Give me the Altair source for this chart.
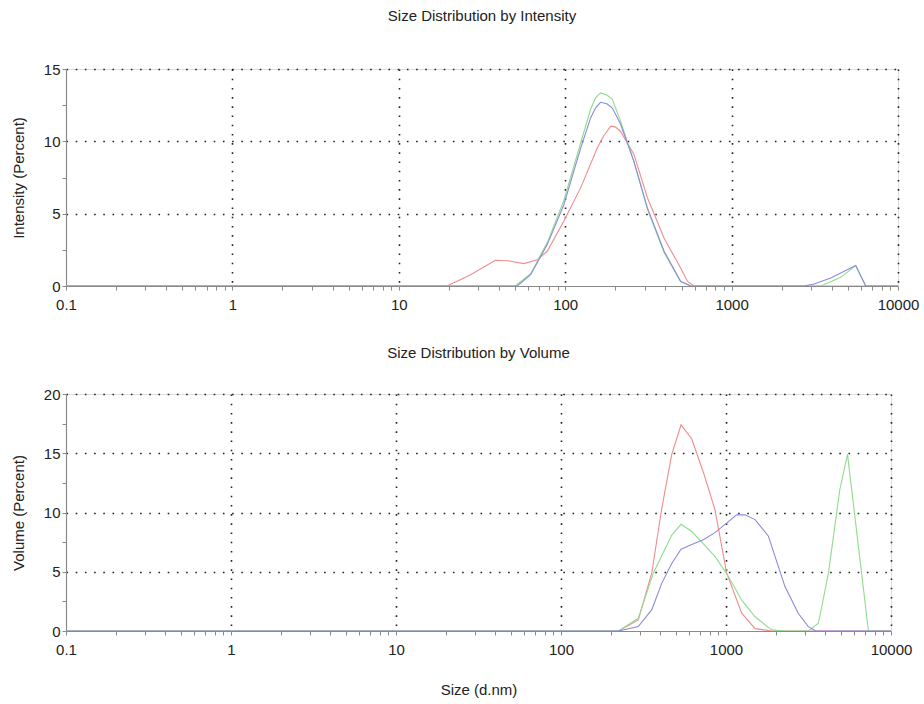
import altair as alt
import pandas as pd

FONT = "Liberation Sans"

series_names = ["Record 1", "Record 2", "Record 3"]
series_colors = ["#f08c8c", "#8edc8e", "#8a8ade"]

# ---- Size Distribution by Intensity ----
int_red_size = [0.1, 19.5, 27, 38, 45, 56.5, 68, 78, 98, 124, 156, 171, 188, 200, 215, 259, 312, 393, 494, 542, 594, 10000]
int_red_val = [0, 0, 0.78, 1.78, 1.75, 1.55, 1.82, 2.4, 4.48, 6.8, 9.55, 10.4, 11.05, 11.0, 10.7, 9.1, 6.1, 3.3, 1.25, 0.33, 0, 0]

int_green_size = [0.1, 50, 62, 78, 98, 124, 142, 152, 163, 178, 192, 215, 259, 312, 393, 494, 568, 3435, 4530, 5570, 6400, 10000]
int_green_val = [0, 0, 0.85, 3.0, 5.9, 9.9, 12.2, 13.0, 13.35, 13.2, 12.9, 11.4, 8.6, 5.3, 2.3, 0.3, 0, 0, 0.6, 1.41, 0, 0]

int_blue_size = [0.1, 51.5, 62, 78, 98, 124, 142, 152, 163, 178, 192, 215, 259, 312, 393, 494, 568, 2725, 3130, 3945, 5570, 6400, 10000]
int_blue_val = [0, 0, 0.78, 2.86, 5.6, 9.55, 11.6, 12.3, 12.7, 12.6, 12.3, 11.2, 8.6, 5.4, 2.4, 0.33, 0, 0, 0.14, 0.55, 1.41, 0, 0]

# ---- Size Distribution by Volume ----
vol_red_size = [0.1, 223, 294, 355, 407, 469, 534, 620, 729, 857, 1009, 1245, 1500, 1890, 10000]
vol_red_val = [0, 0, 0.93, 4.9, 10.25, 14.9, 17.4, 16.2, 13.4, 10.25, 4.9, 1.5, 0.2, 0, 0]

vol_green_size = [0.1, 223, 294, 363, 469, 534, 620, 857, 1035, 1245, 1500, 1890, 2305, 3155, 3630, 4180, 4890, 5450, 7300, 10000]
vol_green_val = [0, 0, 1.07, 4.9, 8.1, 9.0, 8.4, 6.3, 4.6, 2.6, 1.2, 0.1, 0, 0, 0.65, 4.9, 11.9, 14.9, 0, 0]

vol_blue_size = [0.1, 223, 294, 355, 407, 469, 534, 620, 729, 857, 1009, 1160, 1303, 1500, 1807, 2277, 2740, 3155, 3500, 10000]
vol_blue_val = [0, 0, 0.37, 1.8, 4.0, 5.7, 6.9, 7.3, 7.7, 8.3, 9.1, 9.8, 9.8, 9.4, 8.0, 3.75, 1.5, 0.37, 0, 0]

x_tick_values = [0.1, 0.2, 0.3, 0.4, 0.5, 0.6, 0.7, 0.8, 0.9,
                 1, 2, 3, 4, 5, 6, 7, 8, 9,
                 10, 20, 30, 40, 50, 60, 70, 80, 90,
                 100, 200, 300, 400, 500, 600, 700, 800, 900,
                 1000, 2000, 3000, 4000, 5000, 6000, 7000, 8000, 9000, 10000]
int_y_ticks = [0, 2.5, 5, 7.5, 10, 12.5, 15]
vol_y_ticks = [0, 2.5, 5, 7.5, 10, 12.5, 15, 17.5, 20]


def frame(sizes, vals, name):
    return pd.DataFrame({"size": sizes, "value": vals, "series": name,
                         "idx": list(range(len(sizes)))})


int_df = pd.concat([
    frame(int_red_size, int_red_val, series_names[0]),
    frame(int_green_size, int_green_val, series_names[1]),
    frame(int_blue_size, int_blue_val, series_names[2]),
])
vol_df = pd.concat([
    frame(vol_red_size, vol_red_val, series_names[0]),
    frame(vol_green_size, vol_green_val, series_names[1]),
    frame(vol_blue_size, vol_blue_val, series_names[2]),
])

decade = "abs(log(datum.value)/LN10 - round(log(datum.value)/LN10)) < 0.001"
GRID_DASH = [1.6, 7.6]


def x_axis(title, title_pad):
    kw = dict(
        values=x_tick_values,
        labelExpr=f"({decade}) ? (datum.value < 1 ? '0.1' : format(datum.value, 'd')) : ''",
        labelOverlap=False, labelFlush=False,
        labelFont=FONT, labelFontSize=15, labelColor="#222",
        labelPadding=7,
        tickSize=4, tickColor="#8a8a8a", tickWidth=1,
        domainColor="#8a8a8a", domainWidth=1.2,
        grid=True, gridColor="#222", gridWidth=1.6, gridDash=GRID_DASH,
        gridOpacity={"condition": {"test": f"({decade}) && datum.value > 0.15", "value": 1}, "value": 0},
    )
    if title:
        kw.update(title=title, titleFont=FONT, titleFontSize=15, titleFontWeight="normal",
                  titleColor="#222", titlePadding=title_pad)
    else:
        kw.update(title=None)
    return alt.Axis(**kw)


def y_axis(title, h, yticks):
    return alt.Axis(
        values=yticks,
        title=title, titleFont=FONT, titleFontSize=15, titleFontWeight="normal",
        titleColor="#222", titleX=-40, titleY=h / 2,
        labelExpr="datum.value % 5 == 0 ? format(datum.value, 'd') : ''",
        labelOverlap=False, labelFlush=False,
        labelFont=FONT, labelFontSize=15, labelColor="#222", labelPadding=2,
        tickSize=4, tickColor="#8a8a8a", domainColor="#8a8a8a", domainWidth=1.2,
        grid=True, gridColor="#222", gridWidth=1.6, gridDash=GRID_DASH,
        gridOpacity={"condition": {"test": "datum.value % 5 == 0 && datum.value > 0", "value": 1}, "value": 0},
    )


def panel(df, w, h, ymax, yticks, ytitle, title, title_offset, xtitle=None):
    return alt.Chart(df).mark_line(strokeWidth=1.1, clip=True).encode(
        x=alt.X("size:Q", scale=alt.Scale(type="log", domain=[0.1, 10000], nice=False),
                axis=x_axis(xtitle, 25)),
        y=alt.Y("value:Q", scale=alt.Scale(domain=[0, ymax], nice=False),
                axis=y_axis(ytitle, h, yticks)),
        color=alt.Color("series:N", scale=alt.Scale(domain=series_names, range=series_colors), legend=None),
        detail="series:N",
        order=alt.Order("idx:Q"),
    ).properties(
        width=w, height=h,
        title=alt.TitleParams(title, font=FONT, fontSize=15, fontWeight="normal", color="#222",
                              anchor="middle", offset=title_offset),
    )


top = panel(int_df, 832, 217, 15, int_y_ticks, "Intensity (Percent)",
            "Size Distribution by Intensity", 38)
bottom = panel(vol_df, 825, 237, 20, vol_y_ticks, "Volume (Percent)",
               "Size Distribution by Volume", 26, xtitle="Size (d.nm)")

chart = alt.vconcat(top, bottom, spacing=32).properties(
    padding={"left": 10, "top": 8, "right": 2, "bottom": 2}
).configure_view(strokeWidth=0).configure(background="white")

chart.save("out.html", embed_options={"renderer": "svg", "actions": False})
